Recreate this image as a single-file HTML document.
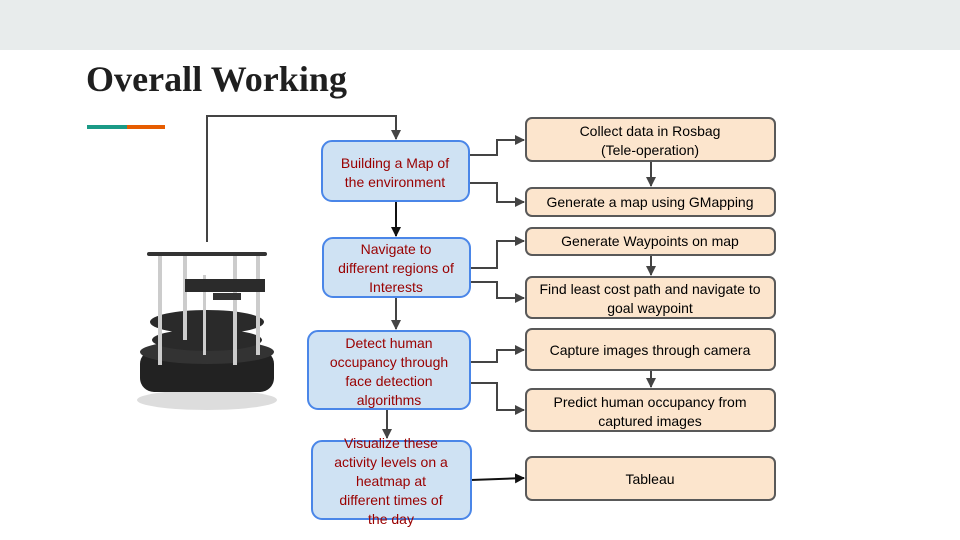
<!DOCTYPE html>
<html><head><meta charset="utf-8"><style>
html,body{margin:0;padding:0;background:#fff}
svg{display:block}
.b{fill:#cfe2f3;stroke:#4a86e8;stroke-width:2}
.o{fill:#fce5cd;stroke:#595959;stroke-width:2}
.bt{font-family:"Liberation Sans",sans-serif;font-size:14px;fill:#990000;text-anchor:middle}
.ot{font-family:"Liberation Sans",sans-serif;font-size:14px;fill:#000;text-anchor:middle}
.c{fill:none;stroke:#444;stroke-width:2}
</style></head><body>
<svg width="960" height="540" viewBox="0 0 960 540">
<defs><marker id="a" markerWidth="10" markerHeight="10" refX="9" refY="5" orient="auto" markerUnits="userSpaceOnUse"><path d="M0,0 L10,5 L0,10z" fill="#444"/></marker>
<marker id="k" markerWidth="10" markerHeight="10" refX="9" refY="5" orient="auto" markerUnits="userSpaceOnUse"><path d="M0,0 L10,5 L0,10z" fill="#111"/></marker></defs>
<rect x="0" y="0" width="960" height="50" fill="#e8ecec"/>
<text x="86" y="91" font-family="'Liberation Serif',serif" font-weight="bold" font-size="36" fill="#1f1f1f" textLength="261">Overall Working</text>
<rect x="87" y="125" width="40" height="4" fill="#1a9a86"/>
<rect x="127" y="125" width="38" height="4" fill="#e65c00"/>

<!-- robot -->
<g>
<ellipse cx="207" cy="400" rx="70" ry="10" fill="#ddd"/>
<rect x="140" y="350" width="134" height="42" rx="14" fill="#222"/>
<ellipse cx="207" cy="352" rx="67" ry="12" fill="#333"/>
<ellipse cx="207" cy="340" rx="55" ry="11" fill="#2a2a2a"/>
<ellipse cx="207" cy="322" rx="57" ry="12" fill="#2a2a2a"/>
<g fill="#ccc"><rect x="158" y="255" width="4" height="110"/><rect x="183" y="255" width="4" height="85"/><rect x="233" y="255" width="4" height="110"/><rect x="256" y="255" width="4" height="100"/><rect x="203" y="275" width="3" height="80"/></g>
<rect x="185" y="279" width="80" height="13" fill="#2b2b2b"/>
<rect x="213" y="293" width="28" height="7" fill="#333"/>
<rect x="147" y="252" width="120" height="4" rx="2" fill="#333"/>
</g>

<path class="c" d="M207,242 V116 H396 V139" marker-end="url(#a)"/>
<path d="M396,201 V236" stroke="#111" stroke-width="2" fill="none" marker-end="url(#k)"/>
<path class="c" d="M396,297 V329" marker-end="url(#a)"/>
<path class="c" d="M387,409 V438" marker-end="url(#a)"/>
<path class="c" d="M469,155 H497 V140 H524" marker-end="url(#a)"/>
<path class="c" d="M469,183 H497 V202 H524" marker-end="url(#a)"/>
<path class="c" d="M470,268 H497 V241 H524" marker-end="url(#a)"/>
<path class="c" d="M470,282 H497 V298 H524" marker-end="url(#a)"/>
<path class="c" d="M470,362 H497 V350 H524" marker-end="url(#a)"/>
<path class="c" d="M470,383 H497 V410 H524" marker-end="url(#a)"/>
<path d="M471,480 L524,478" stroke="#111" stroke-width="2" fill="none" marker-end="url(#k)"/>
<path class="c" d="M651,161 V186" marker-end="url(#a)"/>
<path class="c" d="M651,255 V275" marker-end="url(#a)"/>
<path class="c" d="M651,370 V387" marker-end="url(#a)"/>

<rect class="b" x="322" y="141" width="147" height="60" rx="10"/>
<text class="bt"><tspan x="395" y="168">Building a Map of</tspan><tspan x="395" y="187">the environment</tspan></text>
<rect class="b" x="323" y="238" width="147" height="59" rx="10"/>
<text class="bt"><tspan x="396" y="254">Navigate to</tspan><tspan x="396" y="273">different regions of</tspan><tspan x="396" y="292">Interests</tspan></text>
<rect class="b" x="308" y="331" width="162" height="78" rx="10"/>
<text class="bt"><tspan x="389" y="348">Detect human</tspan><tspan x="389" y="367">occupancy through</tspan><tspan x="389" y="386">face detection</tspan><tspan x="389" y="405">algorithms</tspan></text>
<rect class="b" x="312" y="441" width="159" height="78" rx="10"/>
<text class="bt"><tspan x="391" y="448">Visualize these</tspan><tspan x="391" y="467">activity levels on a</tspan><tspan x="391" y="486">heatmap at</tspan><tspan x="391" y="505">different times of</tspan><tspan x="391" y="524">the day</tspan></text>

<rect class="o" x="526" y="118" width="249" height="43" rx="6"/>
<text class="ot"><tspan x="650" y="136">Collect data in Rosbag</tspan><tspan x="650" y="155">(Tele-operation)</tspan></text>
<rect class="o" x="526" y="188" width="249" height="28" rx="6"/>
<text class="ot" x="650" y="207">Generate a map using GMapping</text>
<rect class="o" x="526" y="228" width="249" height="27" rx="6"/>
<text class="ot" x="650" y="246">Generate Waypoints on map</text>
<rect class="o" x="526" y="277" width="249" height="41" rx="6"/>
<text class="ot"><tspan x="650" y="294">Find least cost path and navigate to</tspan><tspan x="650" y="313">goal waypoint</tspan></text>
<rect class="o" x="526" y="329" width="249" height="41" rx="6"/>
<text class="ot" x="650" y="355">Capture images through camera</text>
<rect class="o" x="526" y="389" width="249" height="42" rx="6"/>
<text class="ot"><tspan x="650" y="407">Predict human occupancy from</tspan><tspan x="650" y="426">captured images</tspan></text>
<rect class="o" x="526" y="457" width="249" height="43" rx="6"/>
<text class="ot" x="650" y="484">Tableau</text>
</svg>
</body></html>
